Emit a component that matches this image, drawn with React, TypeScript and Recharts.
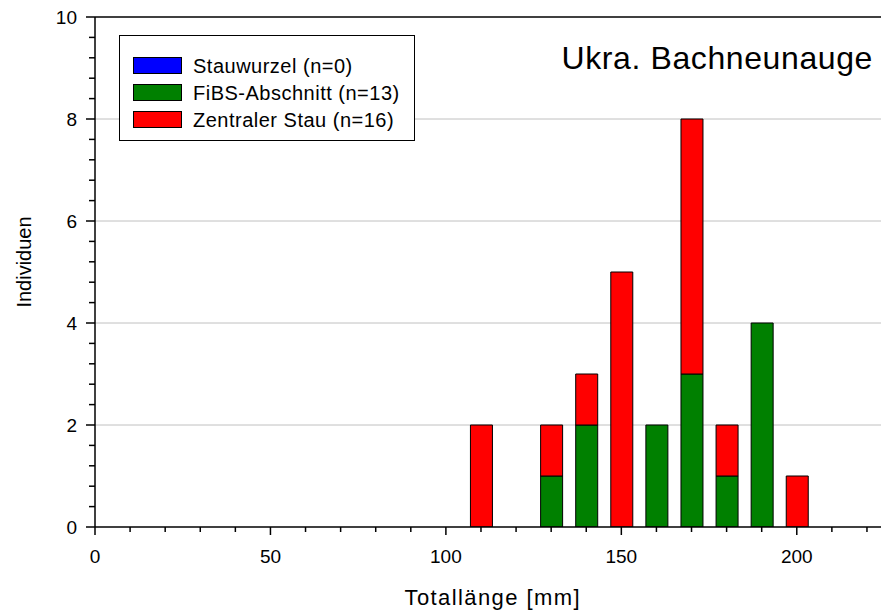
import {
  ComposedChart,
  Bar,
  XAxis,
  YAxis,
  CartesianGrid,
  ReferenceLine,
} from 'recharts';

// Totallänge classes (mm) and counts per section
const lengths = [110, 120, 130, 140, 150, 160, 170, 180, 190, 200];
const stauwurzel = [0, 0, 0, 0, 0, 0, 0, 0, 0, 0];
const fibsAbschnitt = [0, 0, 1, 2, 0, 2, 3, 1, 4, 0];
const zentralerStau = [2, 0, 1, 1, 5, 0, 5, 1, 0, 1];

const xTicks = [0, 10, 20, 30, 40, 50, 60, 70, 80, 90, 100, 110, 120, 130, 140, 150, 160, 170, 180, 190, 200, 210, 220];
const yTicks = [0, 0.4, 0.8, 1.2, 1.6, 2, 2.4, 2.8, 3.2, 3.6, 4, 4.4, 4.8, 5.2, 5.6, 6, 6.4, 6.8, 7.2, 7.6, 8, 8.4, 8.8, 9.2, 9.6, 10];
const yMax = 10;
const gridValues = [2, 4, 6, 8];

const series = [
  { key: 'stauwurzel', name: 'Stauwurzel (n=0)', color: '#0000ff' },
  { key: 'fibs', name: 'FiBS-Abschnitt (n=13)', color: '#008000' },
  { key: 'zentral', name: 'Zentraler Stau (n=16)', color: '#ff0000' },
];

const data = lengths.map((len, i) => ({
  len,
  stauwurzel: stauwurzel[i],
  fibs: fibsAbschnitt[i],
  zentral: zentralerStau[i],
}));

const FONT = 'Arial, "Liberation Sans", sans-serif';

const XTick = (props: any) => {
  const { x, y, payload } = props;
  const major = payload.value % 50 === 0;
  return (
    <g>
      <line x1={x} x2={x} y1={y} y2={y + (major ? 8 : 5)} stroke="#000" strokeWidth={1.5} />
      {major && (
        <text x={x} y={y + 36} textAnchor="middle" fontSize={19} fontFamily={FONT} fill="#000">
          {payload.value}
        </text>
      )}
    </g>
  );
};

const YTick = (props: any) => {
  const { x, y, payload } = props;
  const v = payload.value;
  const major = Math.abs(v / 2 - Math.round(v / 2)) < 1e-6;
  return (
    <g>
      <line x1={x - (major ? 9 : 6)} x2={x} y1={y} y2={y} stroke="#000" strokeWidth={1.5} />
      {major && (
        <text x={x - 18} y={y + 7} textAnchor="end" fontSize={19} fontFamily={FONT} fill="#000">
          {Math.round(v)}
        </text>
      )}
    </g>
  );
};

const LegendBox = () => (
  <div
    style={{
      position: 'absolute',
      left: 119,
      top: 35,
      width: 296,
      height: 106,
      boxSizing: 'border-box',
      border: '1.5px solid #000',
      background: '#fff',
      paddingTop: 16,
      paddingLeft: 13,
      fontFamily: FONT,
      fontSize: 20,
      letterSpacing: 0.5,
    }}
  >
    {series.map((s) => (
      <div key={s.key} style={{ display: 'flex', alignItems: 'center', height: 27 }}>
        <div
          style={{
            width: 49,
            height: 17,
            background: s.color,
            border: '1.5px solid #000',
            boxSizing: 'border-box',
            marginRight: 11,
          }}
        />
        <span style={{ lineHeight: '20px' }}>{s.name}</span>
      </div>
    ))}
  </div>
);

const gridCoords = (p: any) => {
  const scale = p?.yAxis?.scale;
  if (typeof scale === 'function') return gridValues.map((v) => scale(v));
  const { top, height } = p.offset;
  return gridValues.map((v) => top + height * (1 - v / yMax));
};

export default function App() {
  return (
    <div style={{ position: 'absolute', left: 0, top: 0, width: 882, height: 615, background: '#fff' }}>
      <ComposedChart
        width={882}
        height={615}
        data={data}
        margin={{ top: 17, right: 1, bottom: 0, left: 0 }}
      >
        <CartesianGrid
          vertical={false}
          stroke="#c0c0c0"
          strokeWidth={1}
          horizontalCoordinatesGenerator={gridCoords}
        />
        <XAxis
          dataKey="len"
          type="number"
          domain={[0, 224]}
          ticks={xTicks}
          interval={0}
          height={88}
          tickSize={0}
          tickMargin={0}
          tickLine={false}
          tick={<XTick />}
          axisLine={{ stroke: '#000', strokeWidth: 1.5 }}
          allowDataOverflow
          label={{
            content: () => (
              <text
                x={492}
                y={605}
                textAnchor="middle"
                fontSize={22}
                fontFamily={FONT}
                fill="#000"
                textLength={175}
                lengthAdjust="spacing"
              >
                Totallänge [mm]
              </text>
            ),
          }}
        />
        <YAxis
          type="number"
          domain={[0, yMax]}
          ticks={yTicks}
          interval={0}
          width={95}
          tickSize={0}
          tickMargin={0}
          tickLine={false}
          tick={<YTick />}
          axisLine={{ stroke: '#000', strokeWidth: 1.5 }}
          allowDataOverflow
          label={{
            content: () => (
              <text
                x={31}
                y={262}
                textAnchor="middle"
                fontSize={20}
                fontFamily={FONT}
                fill="#000"
                transform="rotate(-90, 31, 262)"
              >
                Individuen
              </text>
            ),
          }}
        />
        <ReferenceLine y={yMax} stroke="#000" strokeWidth={1.5} />
        {series.map((s) => (
          <Bar
            key={s.key}
            dataKey={s.key}
            name={s.name}
            stackId="a"
            fill={s.color}
            stroke="#000"
            strokeWidth={1}
            barSize={22}
            isAnimationActive={false}
          />
        ))}
      </ComposedChart>
      <LegendBox />
      <div
        style={{
          position: 'absolute',
          right: 9,
          top: 40,
          fontFamily: FONT,
          fontSize: 32,
          lineHeight: '36px',
          letterSpacing: 0.6,
          color: '#000',
          whiteSpace: 'nowrap',
        }}
      >
        Ukra. Bachneunauge
      </div>
    </div>
  );
}
